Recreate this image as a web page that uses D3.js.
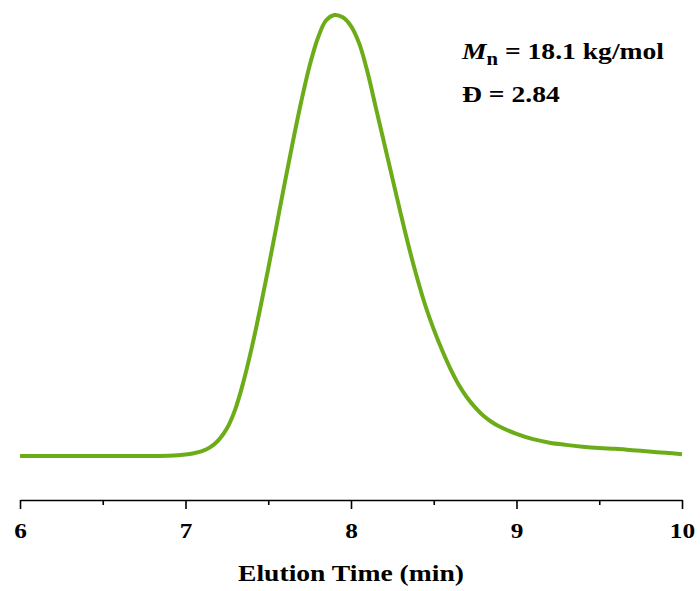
<!DOCTYPE html>
<html>
<head>
<meta charset="utf-8">
<script src="https://cdn.jsdelivr.net/npm/d3@7"></script>
<style>
  body { margin: 0; background: #fff; }
  svg { display: block; font-family: "Liberation Serif", "Times New Roman", serif; font-weight: bold; }
</style>
</head>
<body>
<main></main>
<script>
// elution time (min) and normalised detector response (% of peak)
const times = [
  6.0, 6.6, 6.9, 7.0, 7.05, 7.1, 7.15, 7.2, 7.25, 7.3, 7.35, 7.4, 7.45, 7.5,
  7.55, 7.6, 7.65, 7.7, 7.75, 7.8, 7.85, 7.9, 7.95, 8.0, 8.05, 8.1, 8.15,
  8.2, 8.25, 8.3, 8.35, 8.4, 8.45, 8.5, 8.55, 8.6, 8.65, 8.7, 8.75, 8.8,
  8.85, 8.9, 9.0, 9.1, 9.2, 9.3, 9.4, 9.5, 9.6, 9.7, 9.8, 9.9, 10.0,
];
const signal = [
  0.0, 0.0, 0.05, 0.3, 0.6, 1.1, 2.0, 3.6, 6.2, 10.5, 16.8, 24.5, 33.2, 42.5,
  52.2, 62.0, 71.5, 80.5, 88.5, 94.8, 98.8, 100.0, 99.5, 97.5, 93.5, 87.0, 79.0,
  71.0, 63.0, 55.0, 47.3, 40.3, 34.0, 28.7, 24.0, 19.8, 16.2, 13.3, 11.0, 9.1,
  7.7, 6.6, 5.0, 3.8, 3.0, 2.5, 2.1, 1.8, 1.6, 1.3, 1.0, 0.7, 0.4,
];
const majorTicks = [6, 7, 8, 9, 10];
const minorTicks = [6.5, 7.5, 8.5, 9.5];
const xLabel = 'Elution Time (min)';
const mnText = ' = 18.1 kg/mol';
const dispersityText = 'Đ = 2.84';

const dimensions = {
  width: 700,
  height: 591,
  margin: { top: 15, right: 18, bottom: 91, left: 20 },
};
dimensions.boundedWidth =
  dimensions.width - (dimensions.margin.left + dimensions.margin.right);
dimensions.boundedHeight =
  dimensions.height - (dimensions.margin.top + dimensions.margin.bottom);

// the original type is a little wide for its height
const stretch = 'scale(1.15 1)';

const data = times.map((t, i) => ({ t, v: signal[i] }));

const xScale = d3.scaleLinear().domain([6, 10]).range([0, dimensions.boundedWidth]);
const yScale = d3.scaleLinear().domain([-10, 100]).range([dimensions.boundedHeight, 0]);

const svg = d3
  .select('main')
  .append('svg')
  .attr('width', dimensions.width)
  .attr('height', dimensions.height);

const bounds = svg
  .append('g')
  .attr('transform', `translate(${dimensions.margin.left} ${dimensions.margin.top})`);

const line = d3
  .line()
  .x(d => xScale(d.t))
  .y(d => yScale(d.v))
  .curve(d3.curveCatmullRom.alpha(0.5));

bounds
  .append('path')
  .attr('fill', 'none')
  .attr('stroke', '#6dac19')
  .attr('stroke-width', 4)
  .attr('stroke-linejoin', 'round')
  .attr('d', line(data));

const xAxisGroup = bounds
  .append('g')
  .attr('transform', `translate(0 ${dimensions.boundedHeight})`);

xAxisGroup
  .append('g')
  .call(d3.axisBottom(xScale).tickValues(minorTicks).tickSize(5).tickFormat(''))
  .call(g => g.select('.domain').remove());

xAxisGroup
  .append('g')
  .call(
    d3
      .axisBottom(xScale)
      .tickValues(majorTicks)
      .tickSize(9)
      .tickSizeOuter(0)
      .tickPadding(13)
      .tickFormat(d3.format('d'))
  );

xAxisGroup.selectAll('path, line').attr('stroke', '#000').attr('stroke-width', 1.6);
xAxisGroup
  .selectAll('text')
  .attr('fill', '#000')
  .attr('font-size', 22)
  .attr('font-family', '"Liberation Serif", serif')
  .attr('font-weight', 'bold')
  .attr('transform', stretch);

svg
  .append('text')
  .attr('transform', `translate(${dimensions.margin.left + dimensions.boundedWidth / 2} 581) ${stretch}`)
  .attr('text-anchor', 'middle')
  .attr('font-size', 24)
  .text(xLabel);

const note = svg.append('g').attr('font-size', 24);

const mn = note.append('text').attr('transform', `translate(462 59) ${stretch}`);
mn.append('tspan').attr('font-style', 'italic').text('M');
mn.append('tspan').attr('font-size', 18).attr('dy', 6).text('n');
mn.append('tspan').attr('dy', -6).text(mnText);

note
  .append('text')
  .attr('transform', `translate(462 102) ${stretch}`)
  .text(dispersityText);
</script>
</body>
</html>
